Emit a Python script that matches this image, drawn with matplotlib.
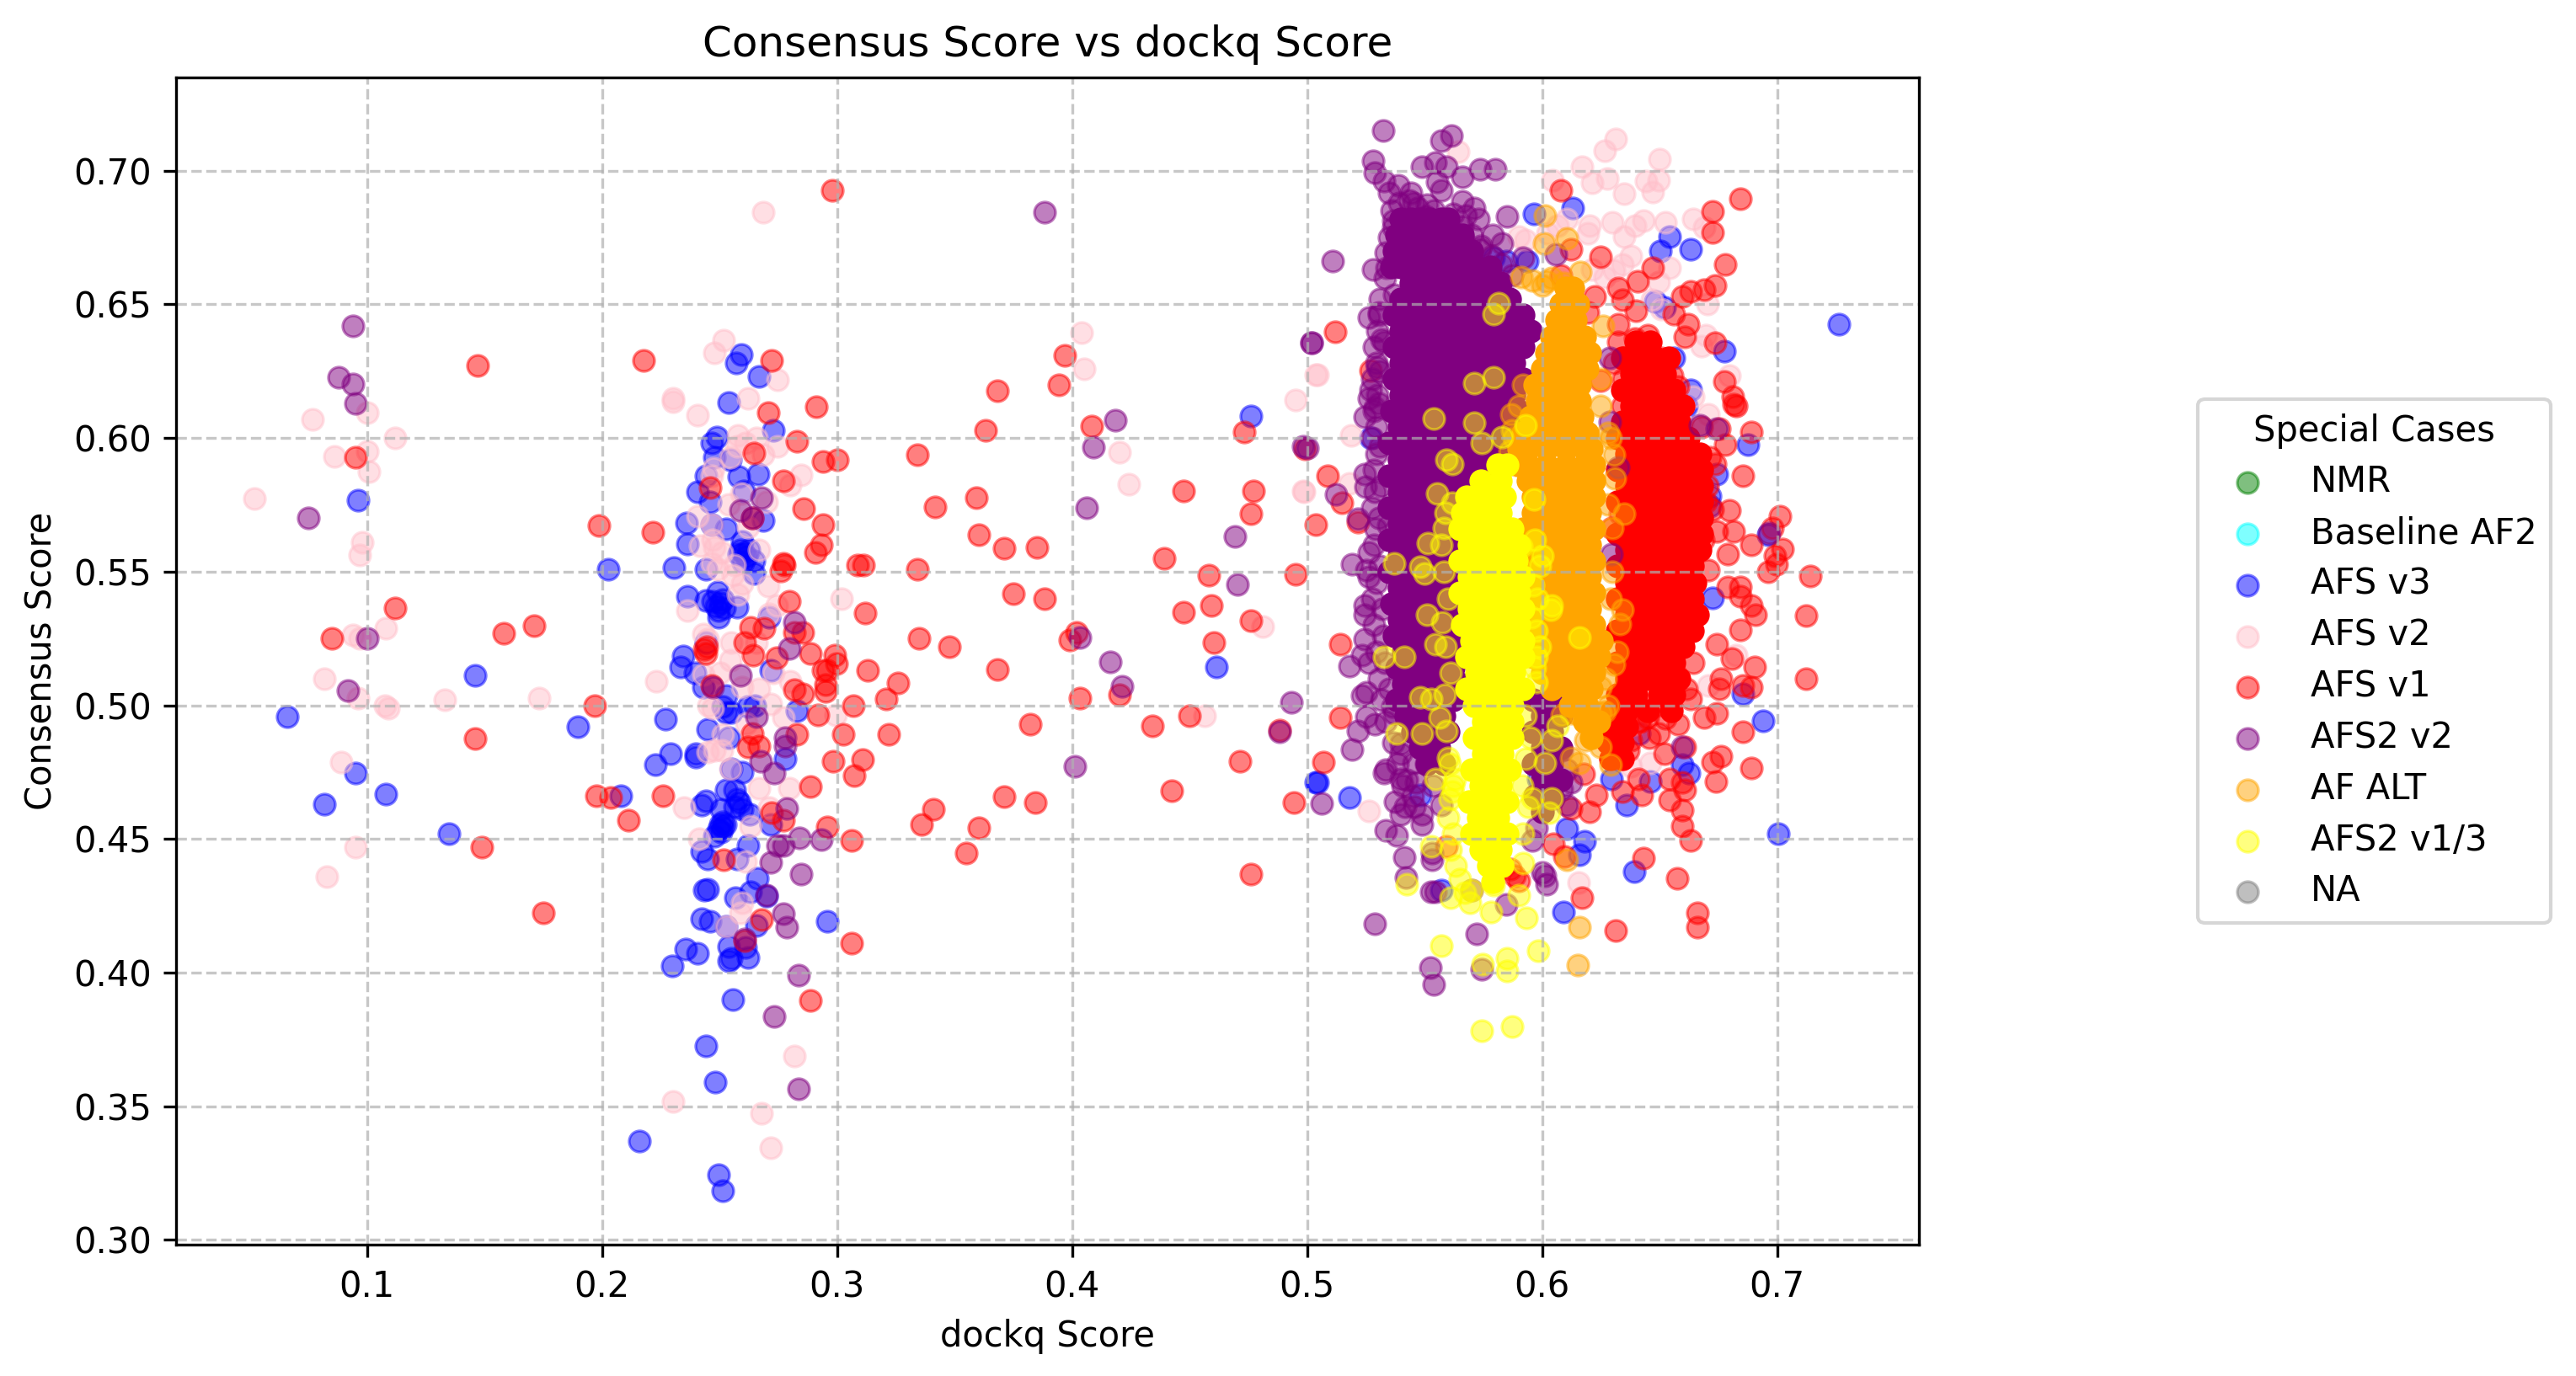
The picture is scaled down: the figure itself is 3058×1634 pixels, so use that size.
import matplotlib
matplotlib.use("Agg")
import matplotlib.pyplot as plt

# sparse points
afs_v3_x = [.0962,.146,.066,.095,.1079,.0817,.1348,.2026,.1898,.2269,.2307,.216,.2078,
    .2591,.257,.2669,.254,.2729,.2487,.2466,.2478,.2544,.2442,.258,.2663,.2404,.246,.2603,.2687,.2358,.2466,.2526,.2364,.2597,
    .259,.2603,.2615,.258,.2625,.26,.2645,.2442,.2645,.2364,.2442,.249,.2502,.2485,.252,.2495,.2515,.247,.2573,.2496,.2711,.2442,
    .2346,.2335,.2394,.243,.2526,.2514,.2526,.255,.2621,.2651,.283,.2448,.2538,.2717,
    .229,.2227,.2398,.2398,.255,.2597,.2777,.2526,.2562,.2442,.2424,.2574,.2585,.2565,.2595,.2507,.2627,
    .2502,.2515,.2495,.2525,.2505,.2515,.2717,.2478,.2621,.2424,.2448,.2573,.2659,.2448,.2436,.2568,.2633,.2699,
    .2424,.246,.2526,.2657,.2959,.2538,.261,.2354,.2406,.2299,.2538,.255,.2619,.2558,.2442,.248,.2494,.2514,
    .4761,.4614,.5036,.5966,.613,.6542,.6501,.6633,.6776,.656,.6633,.6615,.5271,.7261,.6876,.6743,.6715,.6715,.6962,.6725,.6642,.5938,.5847,.5792,
    .6853,.694,.6597,.6624,.6459,.6295,.5042,.5179,.5481,.6359,.6106,.6181,.6158,.5572,.6392,.6092,.7003,.5984,.6414,.648,.652]
afs_v3_y = [.5767,.5113,.4958,.4746,.4669,.4629,.4521,.5508,.4921,.4948,.5514,.337,.4661,
    .6313,.6282,.6232,.6134,.603,.6003,.5982,.5928,.5917,.586,.5854,.5865,.58,.576,.5802,.5692,.5681,.5676,.566,.5603,.5613,
    .558,.557,.5555,.5565,.558,.5535,.554,.5508,.5493,.5409,.5393,.5424,.5383,.537,.5365,.5355,.5395,.539,.5367,.533,.533,.5236,
    .5183,.5142,.5121,.5068,.5037,.4995,.4974,.4974,.4995,.5,.4979,.4911,.488,.513,
    .4818,.4779,.4818,.4807,.4762,.4751,.4801,.4683,.4683,.4644,.4627,.465,.4635,.462,.461,.461,.4593,
    .4555,.4545,.4535,.4555,.4525,.4565,.4554,.4509,.4475,.4453,.4425,.4425,.4354,.4312,.4309,.4281,.4301,.4286,
    .42,.4191,.4172,.4177,.4191,.4096,.4093,.4087,.4073,.4025,.4044,.4053,.4057,.3898,.3725,.359,.3244,.3184,
    .6083,.5143,.4712,.6837,.6861,.6753,.6699,.6705,.6325,.63,.618,.612,.6,.6425,.5975,.5866,.5782,.5746,.5637,.5402,.58,.6662,.6662,.6674,
    .5043,.4941,.4778,.4746,.4715,.4724,.4712,.4654,.4666,.4627,.4537,.4492,.444,.4308,.4378,.4226,.4521,.4724,.4893,.651,.649]

afs_v2_x = [.1,.0767,.1118,.1,.086,.1007,.052,.098,.0968,.1079,.0938,.0968,.0817,.0962,.1075,.109,.133,.1732,.089,.095,.0828,
    .2517,.2478,.2748,.2619,.2301,.2301,.2406,.2579,.2609,.2657,.2747,.2687,.2573,.2544,.2474,.2848,.28,.2466,.2406,.2466,.2591,.2537,.2699,.2621,
    .2472,.2418,.2478,.2508,.2669,.2466,.249,.2562,.2556,.2597,.2579,.2708,.3019,.2361,.2741,.2711,.243,.2448,.255,.2657,.2544,.2729,.28,.2229,
    .243,.2502,.2597,.2669,.2717,.2472,.2454,.2771,.2992,.2615,.2514,
    .2478,.2448,.2508,.2547,.2669,.2797,.2349,.2711,.2633,.2414,.2609,.2594,.2588,.2526,.2819,.2301,.2679,.2719,.2685,
    .4041,.4051,.5036,.4952,.4201,.4241,.4982,.4811,.4564,
    .6313,.6267,.65,.617,.6276,.6213,.6044,.6441,.6496,.635,.6472,.5642,.6642,.6688,.6523,.6432,.6395,.63,.6203,.6194,.635,.6103,.6066,.6021,.5902,.5929,
    .6377,.6341,.6542,.6496,.6304,.6267,.6213,.6468,.6505,.6703,.6697,.6679,.6798,.6825,.6642,.6706,.5042,.5188,.5179,.4987,.6487,.6597,
    .5261,.6825,.6459,.6377,.6154,.6706,.6395]
afs_v2_y = [.6096,.6069,.6,.5949,.5931,.5873,.5773,.5611,.5563,.5289,.5262,.525,.5098,.5027,.5,.4989,.5021,.5026,.4786,.4468,.4358,
    .6366,.6318,.6217,.615,.6148,.6137,.6085,.6009,.598,.6,.597,.5938,.597,.5928,.5886,.5863,.5823,.586,.5708,.5676,.5791,.575,.576,.5666,
    .5618,.5597,.5592,.5571,.5582,.553,.5508,.5524,.5487,.5456,.5414,.5445,.5398,.5356,.5372,.5341,.5267,.5246,.5236,.5236,.5168,.512,.5089,.5089,
    .5115,.5121,.5068,.5063,.5005,.499,.5,.4953,.4963,.4932,.489,
    .483,.4826,.483,.4762,.4689,.4689,.4618,.4616,.4548,.45,.4416,.4262,.4222,.4172,.3688,.3519,.3474,.3345,.6846,
    .6394,.6259,.6238,.6142,.5947,.5827,.5802,.5294,.4961,
    .7118,.7075,.7042,.7016,.697,.6954,.6964,.6961,.6966,.6913,.6922,.7072,.6819,.6789,.6807,.6813,.6795,.6807,.6795,.6765,.6753,.6819,.6795,.6765,.6753,.6741,
    .668,.665,.6638,.6584,.6626,.6602,.6632,.6518,.6481,.65,.6385,.6343,.6234,.612,.6156,.609,.6237,.6011,.583,.58,.6023,.6053,
    .4606,.5188,.4784,.4772,.4336,.5074,.4929]

afs_v1_x = [.147,.095,.1118,.085,.1581,.171,.146,.1487,.1748,.2979,
    .2177,.272,.291,.2707,.283,.30,.2938,.334,.2645,.277,.2458,.2858,.2938,.3418,.1988,.2217,.2932,.2908,.277,.2775,.2759,.3087,.3111,.334,.2639,
    .2798,.3119,.335,.3479,.263,.269,.2818,.2854,.2607,.2436,.244,.2445,.2642,.2741,.2886,.2989,.2998,.2956,.2938,.3129,.326,.3209,.3069,.2818,.2854,.295,.295,
    .2466,.197,.2918,.3219,.3027,.283,.2639,
    .2981,.3107,.3072,.2887,.2257,.1976,.2038,.2111,.2722,.277,.2959,.306,.341,.336,.3548,.2516,.2677,.2607,.306,.2886,.2621,.2669,
    .397,.3943,.3682,.3631,.4082,.4731,.499,.3591,.3602,.371,.385,.4473,.4771,.4761,.5036,.4391,.4582,.4952,.3749,.3882,.4473,.4591,.4761,
    .402,.399,.4602,.3682,.4032,.42,.3821,.434,.45,.4883,.4713,.4423,.4943,.371,.3842,.3602,.4761,
    .6081,.6843,.6725,.6725,.6249,.6121,.678,.6472,.6405,.6322,.6734,.6688,.6633,.6597,.6081,.6341,.6222,.6399,.656,.662,.6606,.6734,.6194,.6322,.645,.6395,.6322,
    .635,.6505,.6441,.6551,.6578,.6776,.6812,.6816,.6825,.6432,.6341,.645,.6542,.6597,.6679,.6752,.6889,.678,.6715,.6734,.6853,.6798,.6725,.6816,.6743,.6889,
    .7013,.6981,.7021,.699,.6999,.6962,.7141,.6789,.6706,.6789,.6843,.6843,.6889,.5088,.5148,.5216,.5271,.5119,.6331,.6295,.6249,
    .7121,.7121,.6908,.6843,.6904,.6807,.6743,.6761,.6889,.6853,.6752,.6642,.6743,.6688,.6853,.6761,.6725,.674,.689,.6606,.652,.6496,.6578,.6414,.6377,.6368,
    .641,.6341,.6423,.6542,.6597,.6606,.6542,.6597,.6597,.6633,.6432,.6574,.6662,.6662,.6313,.617,.6203,.6121,.6231,.6176,.5142,.5142,.507,.6048,.6095,.5883,.5591,.5865,.5902,
    .6569,.6615,.6633,.645,.6341,
    .6305,.6345,.6385,.6475,.6525,.6575,.6625,.6665,.6705,.6695,.6645,.6685,.6635,.6555,.6485,.6415,.6455,.6525]
afs_v1_y = [.6273,.5929,.5363,.525,.5271,.5297,.4875,.4468,.4223,.6926,
    .629,.629,.6116,.6095,.5988,.592,.5912,.5938,.5943,.5839,.5816,.5736,.5676,.5742,.5673,.5648,.56,.5571,.553,.5525,.5503,.5524,.5524,.551,.5702,
    .539,.5344,.5252,.5218,.5293,.5288,.5273,.5273,.5236,.521,.5195,.522,.5186,.5178,.5194,.5189,.5157,.5131,.5131,.5131,.5084,.5024,.4997,.5058,.5042,.5052,.5078,
    .5073,.5,.4963,.489,.489,.489,.4895,
    .4792,.4796,.4736,.4695,.4661,.4661,.4655,.4569,.4599,.4571,.4546,.4494,.461,.4554,.4447,.4421,.4197,.4119,.411,.3896,.4844,.4847,
    .6308,.6198,.6177,.6028,.6045,.6023,.5961,.5778,.5637,.5588,.5591,.5802,.5802,.5716,.5675,.555,.5487,.5489,.5416,.5398,.5347,.5373,.5316,
    .5274,.5243,.5235,.5134,.5027,.5038,.4928,.4923,.4961,.4906,.479,.4679,.4636,.4658,.4636,.4541,.4367,
    .6928,.6894,.6849,.6768,.6677,.6705,.665,.6638,.6588,.656,.6572,.6556,.6548,.653,.6608,.6518,.653,.6475,.6463,.6427,.6379,.6355,.6469,.6427,.6385,.6373,.6361,
    .63,.63,.6228,.6234,.6192,.621,.6156,.6126,.612,.6162,.612,.6065,.6114,.612,.6041,.6035,.6023,.5975,.5927,.5903,.586,.5728,.5734,.565,.565,.5601,
    .5707,.5662,.5583,.5559,.5529,.5499,.5483,.5565,.5505,.5444,.5444,.5408,.5372,.586,.5758,.5686,.6252,.6397,.5716,.5662,.6216,
    .5336,.5098,.5339,.5281,.5143,.5176,.523,.5098,.5068,.5074,.5061,.5158,.4971,.4953,.4901,.4811,.4787,.4715,.4764,.4844,.482,.4893,.4929,.4941,.4869,.4832,
    .4724,.4676,.4664,.4724,.4712,.4682,.4645,.4609,.4549,.4495,.4428,.4354,.4223,.4169,.4157,.428,.4603,.4615,.4664,.4742,.5228,.4955,.4788,.4483,.4434,.4362,.4471,.4386,.4344,
    .5086,.5061,.5025,.4953,.4905,
    .628,.622,.616,.61,.602,.598,.594,.588,.582,.576,.57,.562,.556,.548,.5,.494,.488,.495]

afs2_v2_x = [.0939,.0878,.0939,.095,.0749,.1,.0918,.3881,
    .2679,.2588,.2639,.2818,.2798,.2588,.2472,.2655,.2777,.2778,.2675,.2731,.2786,.2839,.2932,.2747,.2771,.2717,.2846,.2699,.2771,.2786,.2607,.2836,.2731,.2836,
    .502,.4184,.409,.4062,.4692,.4704,.4032,.4984,.4161,.4211,.4932,.4883,.4011,.506,
    .5322,.5613,.5572,.528,.5289,.549,.5545,.5591,.5737,.5801,.566,.5326,.5389,.5554,.5572,.5347,.5441,.5508,.566,.5709,.5454,.585,.5728,.5673,.5368,.5368,.5788,.5828,.5664,.5737,
    .5335,.5371,.511,.528,.5338,.6057,.592,.5371,.5262,.5307,.5326,.5298,.527,.5262,.5243,.5289,.5,.5018,.5243,.5249,.5289,.5121,.5216,.5344,.5262,.5192,.5252,.5262,.5243,
    .6289,.6286,.6322,.667,.6743,.6295,.6966,
    .5243,.5243,.5179,.5261,.5234,.5252,.5234,.5362,.5252,.5289,.5216,.5192,.5399,.5335,.5326,.5399,.5454,.5463,.5417,.5399,.5489,.5489,.5335,.538,.5572,.5412,.553,.553,.5421,.5527,.5545,.57,.5847,.6011,.602,
    .5722,.5289,.5523,.554,.5741,.6085,.6121,.6085,.604,.5975,.6002,.5956,.6597,.6103,.6048,.6103,
    .53,.5285,.5295,.5275,.53,.5285,.5275,.5295,.5285,.5275,.529,.5285,.5295,.5275,.5285,.5295,.5305,.5315,.5335,.5365,.5385,.5405,.545,.5375,
    .536,.539,.5435,.547,.5505,.554,.562,.566,.57,.574,.5785,.5825,.587,.535,.533,.531,
    .5305,.5315,.531,.5305,.5295,.531,.5315,.5305,.531,.532,.5325,.533,.535,.537,.54,.5425,.5455,.5505,.5535,.5545]
afs2_v2_y = [.642,.6226,.6202,.6131,.57,.525,.5056,.6846,
    .5778,.5729,.57,.5309,.5213,.5112,.5068,.4958,.488,.4846,.4792,.4745,.4614,.4503,.4498,.4475,.4475,.4413,.4368,.429,.4219,.4169,.4127,.3989,.3836,.3564,
    .6357,.6066,.5965,.5738,.5633,.5451,.5253,.597,.5162,.507,.5011,.4902,.4772,.4634,
    .715,.7133,.7112,.7036,.6994,.7014,.703,.7014,.7006,.7006,.6976,.6961,.6946,.6958,.6928,.6916,.6916,.6873,.6885,.6861,.6879,.6829,.6819,.6831,.6813,.6789,.6761,.6729,.6741,.6705,
    .6693,.6662,.6662,.663,.6638,.6686,.6674,.6536,.6451,.6469,.6361,.6264,.618,.615,.6078,.6114,.5963,.6355,.5866,.5818,.58,.5788,.5698,.5674,.5571,.5527,.5505,.5481,.5372,
    .6301,.6059,.5891,.6047,.6035,.5565,.5643,
    .5339,.5248,.5146,.5158,.5188,.5049,.5037,.4995,.4959,.4929,.4905,.4836,.4857,.476,.4748,.4724,.4784,.4712,.4621,.4591,.4591,.4555,.4531,.4513,.4627,.4431,.4447,.4422,.4356,.4302,.4302,.4308,.4254,.4362,.4332,
    .4145,.4184,.4018,.3955,.4012,.4832,.4712,.4688,.4736,.4543,.4374,.4495,.4844,.476,.4652,.4627,
    .64,.634,.628,.622,.616,.61,.6,.594,.588,.574,.566,.56,.546,.54,.53,.52,.51,.502,.494,.486,.478,.47,.466,.464,
    .685,.688,.689,.686,.683,.685,.684,.679,.676,.672,.668,.665,.661,.675,.66,.652,
    .646,.637,.625,.613,.604,.597,.582,.57,.552,.536,.526,.516,.506,.497,.482,.472,.462,.478,.47,.49]

af_alt_x = [.6011,.6008,.6106,.6161,.5911,.5956,.6018,.6258,.5869,.6291,.6158,.6121,.6185,.6249,.6103,.6158,.6152,
    .6267,.6249,.6121,.6158,.6085,.6249,.6331,.634,.6304,.6349,.63,.6304,.6249,.6249,.628,
    .629,.631,.628,.63,.629,.632,.627,.628,.592,.59,.588,.586,.587,.589,.6,.604,.609]
af_alt_y = [.6831,.6729,.6747,.662,.6602,.659,.6585,.6419,.609,.4778,.4784,.4802,.4869,.4844,.4422,.4169,.4027,
    .4977,.4971,.4971,.4965,.4965,.5068,.5303,.5357,.5152,.5716,.5662,.5939,.6222,.612,.602,
    .6,.585,.575,.55,.54,.52,.51,.5,.62,.612,.6,.595,.603,.59,.657,.66,.658]

afs2_v13_x = [.5814,.5792,.5792,.571,.554,.571,.5741,.5828,.5929,.5591,.5618,.5554,.5618,.5966,.5582,.5512,.5911,.6002,.5371,.5481,.5499,.6039,
    .5508,.5545,.6035,.5326,.5412,.5975,.5975,.5975,.5481,.5527,.5563,.5381,.5489,.5591,.6066,.6039,.5599,.5545,.5627,.5618,.6039,.603,.5527,.592,.5422,
    .5609,.5691,.5783,.5902,.5931,.5572,.5982,.5852,.5852,.5746,.5741,.5871,.57,.5792,.6011,.5956,.6158,
    .5605,.562,.5605,.56,.562,.561,.563,.565,.567,.597,.599,.596,.598,.5955,.599,.597,.559,.557,.558,.56,.5575,.559,.561,.5585,.593,.595,.593,.5915,.594,.592]
afs2_v13_y = [.6506,.6463,.6228,.6204,.6074,.6057,.5981,.6005,.6047,.5917,.5903,.5794,.5758,.577,.5662,.5607,.5595,.5559,.5531,.5517,.5493,.5372,
    .5339,.523,.5357,.5182,.5182,.5279,.5182,.5086,.5031,.5025,.4953,.4893,.4893,.4905,.4923,.4869,.4802,.4724,.4724,.4676,.4652,.4597,.4471,.441,.4332,
    .428,.426,.4226,.429,.4205,.4099,.4081,.4052,.4006,.403,.3781,.3799,.4308,.4326,.4784,.4652,.5255,
    .478,.47,.465,.458,.452,.446,.44,.435,.43,.562,.552,.545,.54,.533,.522,.514,.572,.56,.55,.54,.531,.522,.512,.504,.496,.488,.48,.47,.462,.452]

# the solid parts of the clusters, one row of x values per y
purple_row_y = [.682,.676,.670,.664,.658,.652,.646,.640,.634,.628,.622,.616,.610,.604,.598,.592,.586,.580,.574,.568,.562,.556,.550,.544,.538,.532,.526,.520,.514,.508,.502,.496,.490,.484,.478,.472,.466,.460]
purple_row_x = [[.540,.544,.548,.552,.557,.560],[.538,.542,.548,.552,.556,.560,.566],[.537,.542,.550,.558,.564,.570],
    [.536,.540,.548,.556,.564,.572,.578],[.544,.552,.560,.568,.576,.582],[.540,.548,.556,.564,.572,.580,.586],
    [.537,.544,.552,.560,.568,.576,.584,.592],[.540,.548,.556,.564,.572,.580,.588,.595],[.537,.544,.552,.560,.568,.576,.584,.592],
    [.540,.548,.556,.564,.572,.580,.588],[.537,.544,.552,.560,.568,.576,.584,.592],[.540,.548,.556,.564,.572,.580,.588],
    [.536,.544,.552,.560,.568,.576,.584,.590],[.539,.547,.555,.563,.571,.579,.587],[.535,.543,.551,.559,.567,.575,.583,.590],
    [.539,.547,.555,.563,.571,.579,.587],[.535,.543,.551,.559,.567,.575],[.539,.547,.555,.563,.570],
    [.535,.543,.551,.559,.566],[.539,.547,.555,.563],[.535,.543,.551,.559,.566],[.539,.547,.555,.563],
    [.535,.543,.551,.559,.566],[.539,.547,.555,.563],[.536,.544,.552,.560,.567],[.539,.547,.555,.563],
    [.537,.545,.553,.561],[.541,.549,.557,.565],[.538,.546,.554,.562],[.541,.549,.557,.565],
    [.538,.546,.554,.562,.596,.604],[.542,.550,.558,.600,.608],[.545,.553,.560,.596,.604],[.548,.556,.600,.608],[.551,.558,.596,.604],[.600,.608],[.597,.604],[.600]]

red_row_y = [.636,.630,.624,.618,.612,.606,.600,.594,.588,.582,.576,.570,.564,.558,.552,.546,.540,.534,.528,.522,.516,.510,.504,.498,.492,.486,.480]
red_row_x = [[.640,.646],[.634,.642,.648,.654],[.638,.646,.652],[.634,.642,.650,.656],[.638,.646,.654,.660],[.634,.642,.650,.658],
    [.632,.640,.648,.656,.662],[.636,.644,.652,.660,.667],[.632,.640,.648,.656,.664,.668],[.636,.644,.652,.660,.668],
    [.632,.640,.648,.656,.664,.668],[.636,.644,.652,.660,.668],[.632,.640,.648,.656,.664,.668],[.636,.644,.652,.660,.667],
    [.632,.640,.648,.656,.664],[.636,.644,.652,.660,.665],[.632,.640,.648,.656,.664],[.636,.644,.652,.660,.666],
    [.632,.640,.648,.656,.664],[.636,.644,.652,.660],[.632,.640,.648,.656],[.636,.644,.652,.658],
    [.632,.640,.650,.656],[.630,.636,.645,.655],[.630,.636],[.628,.634],[.629,.634]]

orange_row_y = [.656,.650,.644,.638,.632,.626,.620,.614,.608,.602,.596,.590,.584,.578,.572,.566,.560,.554,.548,.542,.536,.530,.524,.518,.512,.506,.500,.494,.488]
orange_row_x = [[.610,.613],[.608,.611,.615],[.606,.609,.614],[.604,.606,.612,.618],[.602,.606,.612,.618,.620],[.600,.604,.612,.619],[.597,.600,.608,.616],
    [.598,.602,.610,.616],[.595,.599,.607,.615,.617],[.592,.596,.604,.612,.619],[.590,.594,.602,.610,.618,.621],[.590,.594,.602,.610,.618,.622],
    [.594,.598,.606,.614,.622],[.596,.600,.608,.616,.622],[.596,.604,.612,.620],[.592,.600,.608,.616,.622],[.596,.604,.612,.620],
    [.592,.600,.608,.616,.622],[.596,.604,.612,.620],[.592,.600,.608,.616,.622],[.596,.604,.612,.620],[.598,.606,.614,.622],[.595,.603,.611,.619,.625],
    [.596,.604,.612,.620,.624],[.600,.608,.616,.622],[.604,.612,.617,.621],[.612,.619],[.618,.624],[.621]]

yellow_row_y = [.590,.584,.578,.572,.566,.560,.554,.548,.542,.536,.530,.524,.518,.512,.506,.500,.494,.488,.482,.476,.470,.464,.458,.452,.446,.440,.434]
yellow_row_x = [[.581,.585],[.574,.582],[.568,.576,.584],[.566,.574,.582],[.565,.573,.581,.587],[.569,.577,.585,.590],
    [.565,.573,.581,.589],[.569,.577,.585,.592],[.565,.573,.581,.590],[.569,.577,.585,.592],[.566,.574,.582,.590],
    [.570,.578,.586,.592],[.568,.576,.584,.592],[.572,.580,.588],[.568,.576,.584,.592],[.571,.579,.587],
    [.575,.583,.587],[.571,.579,.587],[.575,.583],[.570,.578,.586],[.574,.582],[.569,.577,.585],[.573,.581],
    [.570,.578,.585],[.574,.582],[.577,.583],[.579]]

SIZE = 36
EDGE = 0.8


def flatten(row_y, row_x):
    xs = []
    ys = []
    for y, row in zip(row_y, row_x):
        for x in row:
            xs.append(x)
            ys.append(y)
    return xs, ys


def draw(ax, x, y, color, label, rows=None):
    ax.scatter(x, y, s=SIZE, color=color, alpha=0.5, linewidths=EDGE, label=label)
    if rows is not None:
        cx, cy = flatten(rows[0], rows[1])
        ax.scatter(cx, cy, s=SIZE, color=color, linewidths=EDGE)


fig, ax = plt.subplots(figsize=(3058 / 300, 1634 / 300), dpi=300)
fig.subplots_adjust(left=209 / 3058, right=2278 / 3058, top=1 - 92 / 1634, bottom=1 - 1478 / 1634)

draw(ax, [], [], "green", "NMR")
draw(ax, [], [], "cyan", "Baseline AF2")
draw(ax, afs_v3_x, afs_v3_y, "blue", "AFS v3")
draw(ax, afs_v2_x, afs_v2_y, "pink", "AFS v2")
draw(ax, afs_v1_x, afs_v1_y, "red", "AFS v1", (red_row_y, red_row_x))
draw(ax, afs2_v2_x, afs2_v2_y, "purple", "AFS2 v2", (purple_row_y, purple_row_x))
draw(ax, af_alt_x, af_alt_y, "orange", "AF ALT", (orange_row_y, orange_row_x))
draw(ax, afs2_v13_x, afs2_v13_y, "yellow", "AFS2 v1/3", (yellow_row_y, yellow_row_x))
draw(ax, [], [], "gray", "NA")

ax.set_xlim(0.0187, 0.7603)
ax.set_ylim(0.2982, 0.7349)
ax.set_xticks([.1, .2, .3, .4, .5, .6, .7])
ax.set_yticks([.30, .35, .40, .45, .50, .55, .60, .65, .70])
ax.set_xlabel("dockq Score")
ax.set_ylabel("Consensus Score")
ax.set_title("Consensus Score vs dockq Score")
ax.grid(True, linestyle="--", alpha=0.7)
ax.legend(title="Special Cases", loc="center left", bbox_to_anchor=(1.15, 0.5), labelspacing=0.45)

fig.savefig("out.png", dpi=300)
